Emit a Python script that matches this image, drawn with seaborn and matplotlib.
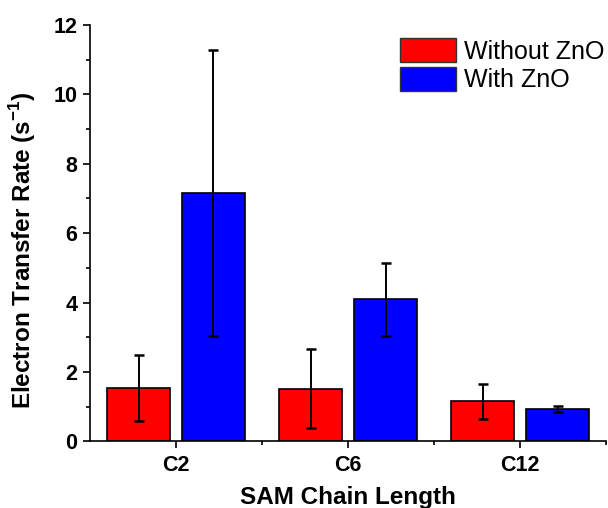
import matplotlib
matplotlib.use("Agg")
import matplotlib.pyplot as plt
from matplotlib.ticker import MultipleLocator, FixedLocator
import seaborn as sns
import pandas as pd

categories = ["C2", "C6", "C12"]
groups = ["Without ZnO", "With ZnO"]
without_zno = [1.55, 1.52, 1.16]
without_zno_err = [0.95, 1.14, 0.50]
with_zno = [7.16, 4.09, 0.94]
with_zno_err = [4.12, 1.05, 0.08]

sns.set_style("ticks")
plt.rcParams["font.family"] = ["Liberation Sans", "DejaVu Sans"]
plt.rcParams["mathtext.fontset"] = "custom"
plt.rcParams["mathtext.bf"] = "Liberation Sans:bold"
plt.rcParams["mathtext.rm"] = "Liberation Sans"
for key in ("text.color", "axes.labelcolor", "xtick.color", "ytick.color",
            "axes.edgecolor"):
    plt.rcParams[key] = "black"

df = pd.DataFrame({
    "chain": categories * 2,
    "group": [groups[0]] * 3 + [groups[1]] * 3,
    "rate": without_zno + with_zno,
    "err": without_zno_err + with_zno_err,
})

fig = plt.figure(figsize=(6.08, 5.08), dpi=100)
ax = fig.add_axes([0.148, 0.131, 0.849, 0.820])

palette = {groups[0]: "#FF0000", groups[1]: "#0000FF"}
sns.barplot(data=df, x="chain", y="rate", hue="group", hue_order=groups,
            order=categories, palette=palette, width=0.87, gap=0.155,
            edgecolor="black", linewidth=1.2, saturation=1, errorbar=None,
            legend=True, ax=ax)

# error bars at the centres of the drawn bars
for container, g in zip(ax.containers, groups):
    sub = df[df["group"] == g].set_index("chain").loc[categories]
    xs = [p.get_x() + p.get_width() / 2 for p in container.patches]
    ax.errorbar(xs, sub["rate"].values, yerr=sub["err"].values, fmt="none",
                ecolor="black", elinewidth=1.4, capsize=3.3, capthick=1.8, zorder=5)

ax.set_xlim(-0.5, 2.5)
ax.set_ylim(0, 12)
ax.yaxis.set_major_locator(MultipleLocator(2))
ax.yaxis.set_minor_locator(MultipleLocator(1))
ax.xaxis.set_minor_locator(FixedLocator([0.5, 1.5, 2.5]))

for side in ("top", "right"):
    ax.spines[side].set_visible(False)
for side in ("left", "bottom"):
    ax.spines[side].set_linewidth(1.2)
    ax.spines[side].set_color("black")

ax.tick_params(axis="both", which="major", length=5, width=1.2, direction="out",
               labelsize=15.5, colors="black")
ax.tick_params(axis="y", which="major", pad=4)
ax.tick_params(axis="x", which="major", pad=5)
ax.tick_params(axis="both", which="minor", length=3, width=1.2, direction="out",
               colors="black")
for lab in ax.get_xticklabels() + ax.get_yticklabels():
    lab.set_fontweight("bold")

ax.set_xlabel("SAM Chain Length", fontsize=17.5, fontweight="bold", color="black")
ax.set_ylabel("Electron Transfer Rate (s$^{\\mathbf{-1}}$)", fontsize=17.5,
              fontweight="bold", color="black")
ax.xaxis.set_label_coords(0.5, -0.106)
ax.yaxis.set_label_coords(-0.100, 0.46)

leg = ax.legend(loc="upper left", bbox_to_anchor=(400 / 608, 1 - 38 / 508),
                bbox_transform=fig.transFigure, frameon=False,
                fontsize=18, handlelength=2.25, handleheight=1.12,
                labelspacing=0.12, handletextpad=0.32, borderpad=0,
                borderaxespad=0)
for p in leg.get_patches():
    p.set_edgecolor("#333333")
    p.set_linewidth(1.0)
for t in leg.get_texts():
    t.set_color("black")

fig.savefig("out.png", dpi=100)
